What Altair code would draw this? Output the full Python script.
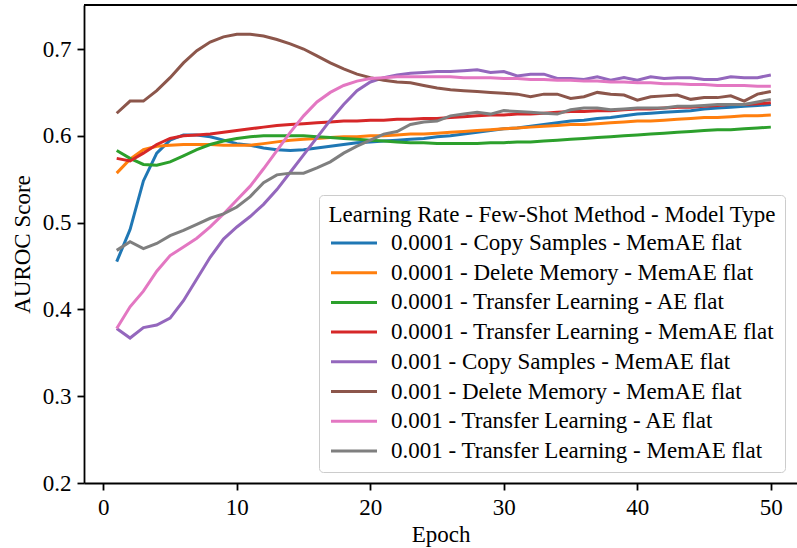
import altair as alt
import pandas as pd

epochs = list(range(1, 51))

series_names = [
    "0.0001 - Copy Samples - MemAE flat",
    "0.0001 - Delete Memory - MemAE flat",
    "0.0001 - Transfer Learning - AE flat",
    "0.0001 - Transfer Learning - MemAE flat",
    "0.001 - Copy Samples - MemAE flat",
    "0.001 - Delete Memory - MemAE flat",
    "0.001 - Transfer Learning - AE flat",
    "0.001 - Transfer Learning - MemAE flat",
]

colors = ["#1f77b4", "#ff7f0e", "#2ca02c", "#d62728",
          "#9467bd", "#8c564b", "#e377c2", "#7f7f7f"]

lr4_copy = [0.455, 0.492, 0.548, 0.580, 0.595, 0.601, 0.601, 0.599, 0.595, 0.591,
            0.589, 0.586, 0.584, 0.583, 0.584, 0.586, 0.588, 0.590, 0.592, 0.593,
            0.594, 0.595, 0.596, 0.597, 0.599, 0.600, 0.602, 0.604, 0.606, 0.608,
            0.609, 0.611, 0.613, 0.615, 0.617, 0.618, 0.620, 0.621, 0.623, 0.625,
            0.626, 0.627, 0.628, 0.629, 0.631, 0.632, 0.633, 0.634, 0.635, 0.636]

lr4_delete = [0.557, 0.573, 0.584, 0.588, 0.589, 0.590, 0.590, 0.590, 0.589, 0.589,
              0.589, 0.591, 0.593, 0.595, 0.596, 0.597, 0.598, 0.599, 0.599, 0.600,
              0.600, 0.601, 0.602, 0.602, 0.603, 0.604, 0.605, 0.606, 0.607, 0.608,
              0.609, 0.610, 0.611, 0.612, 0.613, 0.613, 0.614, 0.615, 0.616, 0.617,
              0.617, 0.618, 0.619, 0.620, 0.621, 0.621, 0.622, 0.623, 0.623, 0.624]

lr4_tl_ae = [0.583, 0.574, 0.567, 0.566, 0.570, 0.577, 0.584, 0.590, 0.594, 0.597,
             0.599, 0.600, 0.600, 0.600, 0.600, 0.599, 0.598, 0.597, 0.596, 0.595,
             0.594, 0.593, 0.592, 0.592, 0.591, 0.591, 0.591, 0.591, 0.592, 0.592,
             0.593, 0.593, 0.594, 0.595, 0.596, 0.597, 0.598, 0.599, 0.600, 0.601,
             0.602, 0.603, 0.604, 0.605, 0.606, 0.607, 0.607, 0.608, 0.609, 0.610]

lr4_tl_mem = [0.574, 0.571, 0.580, 0.590, 0.597, 0.600, 0.601, 0.602, 0.604, 0.606,
              0.608, 0.610, 0.612, 0.613, 0.614, 0.615, 0.616, 0.617, 0.617, 0.618,
              0.618, 0.619, 0.619, 0.620, 0.620, 0.621, 0.622, 0.623, 0.624, 0.624,
              0.625, 0.625, 0.626, 0.627, 0.628, 0.628, 0.629, 0.629, 0.630, 0.631,
              0.631, 0.632, 0.633, 0.633, 0.634, 0.635, 0.636, 0.636, 0.637, 0.638]

lr3_copy = [0.378, 0.367, 0.379, 0.382, 0.390, 0.410, 0.435, 0.460, 0.481, 0.495,
            0.507, 0.521, 0.538, 0.558, 0.578, 0.598, 0.618, 0.636, 0.652, 0.662,
            0.667, 0.670, 0.672, 0.673, 0.674, 0.674, 0.675, 0.676, 0.673, 0.674,
            0.669, 0.671, 0.671, 0.666, 0.666, 0.665, 0.668, 0.664, 0.667, 0.664,
            0.668, 0.666, 0.667, 0.667, 0.665, 0.665, 0.668, 0.667, 0.667, 0.670]

lr3_delete = [0.626, 0.640, 0.640, 0.652, 0.667, 0.684, 0.698, 0.708, 0.714, 0.717,
              0.717, 0.715, 0.711, 0.706, 0.700, 0.692, 0.684, 0.677, 0.671, 0.667,
              0.664, 0.662, 0.661, 0.658, 0.655, 0.653, 0.652, 0.651, 0.650, 0.649,
              0.648, 0.645, 0.648, 0.648, 0.643, 0.645, 0.650, 0.648, 0.647, 0.641,
              0.645, 0.646, 0.647, 0.642, 0.644, 0.644, 0.646, 0.640, 0.648, 0.651]

lr3_tl_ae = [0.378, 0.403, 0.421, 0.444, 0.462, 0.472, 0.482, 0.495, 0.510, 0.526,
             0.542, 0.562, 0.583, 0.604, 0.623, 0.639, 0.650, 0.658, 0.663, 0.666,
             0.667, 0.668, 0.668, 0.668, 0.668, 0.668, 0.667, 0.667, 0.667, 0.666,
             0.666, 0.665, 0.665, 0.664, 0.664, 0.663, 0.663, 0.662, 0.662, 0.661,
             0.661, 0.660, 0.660, 0.659, 0.659, 0.658, 0.658, 0.658, 0.657, 0.657]

lr3_tl_mem = [0.468, 0.478, 0.470, 0.476, 0.485, 0.491, 0.498, 0.505, 0.510, 0.518,
              0.530, 0.546, 0.555, 0.557, 0.557, 0.563, 0.570, 0.580, 0.588, 0.595,
              0.602, 0.605, 0.613, 0.616, 0.617, 0.623, 0.625, 0.627, 0.625, 0.629,
              0.628, 0.627, 0.626, 0.625, 0.630, 0.632, 0.632, 0.630, 0.631, 0.632,
              0.632, 0.632, 0.634, 0.634, 0.635, 0.636, 0.636, 0.636, 0.639, 0.642]

all_values = [lr4_copy, lr4_delete, lr4_tl_ae, lr4_tl_mem,
              lr3_copy, lr3_delete, lr3_tl_ae, lr3_tl_mem]

x_ticks = [0, 10, 20, 30, 40, 50]
y_ticks = [0.2, 0.3, 0.4, 0.5, 0.6, 0.7]

rows = []
for name, vals in zip(series_names, all_values):
    for e, v in zip(epochs, vals):
        rows.append({"Epoch": e, "AUROC": v, "Series": name})
df = pd.DataFrame(rows)

FONT = "'Liberation Serif', 'DejaVu Serif', serif"
FS = 23
Y_MAX = 0.7507

lines = alt.Chart(df).mark_line(strokeWidth=3).encode(
    x=alt.X("Epoch:Q",
            scale=alt.Scale(domain=[-1.45, 51.96], nice=False, zero=False),
            axis=alt.Axis(values=x_ticks, title="Epoch", format="d", grid=False,
                          tickSize=7, tickWidth=1.8, tickColor="black",
                          domainColor="black", domainWidth=1.8,
                          labelFont=FONT, labelFontSize=FS, labelColor="black",
                          labelPadding=6, titleFont=FONT, titleFontSize=FS,
                          titleFontWeight="normal", titleColor="black",
                          titlePadding=4)),
    y=alt.Y("AUROC:Q",
            scale=alt.Scale(domain=[0.2, Y_MAX], nice=False, zero=False),
            axis=alt.Axis(values=y_ticks, title="AUROC Score", format=".1f", grid=False,
                          tickSize=7, tickWidth=1.8, tickColor="black",
                          domainColor="black", domainWidth=1.8,
                          labelFont=FONT, labelFontSize=FS, labelColor="black",
                          labelPadding=6, titleFont=FONT, titleFontSize=FS,
                          titleFontWeight="normal", titleColor="black",
                          titlePadding=8)),
    color=alt.Color("Series:N",
                    scale=alt.Scale(domain=series_names, range=colors),
                    sort=series_names,
                    legend=alt.Legend(
                        orient="none", legendX=235, legendY=190,
                        title="Learning Rate - Few-Shot Method - Model Type",
                        titleFont=FONT, titleFontSize=FS, titleFontWeight="normal",
                        titleColor="black", titleAnchor="middle", titlePadding=3,
                        titleLimit=0,
                        labelFont=FONT, labelFontSize=FS, labelColor="black",
                        labelLimit=0, labelOffset=24,
                        symbolType="M-2,0H2", symbolSize=529, symbolStrokeWidth=3,
                        symbolOffset=12,
                        rowPadding=4.7, padding=9,
                        fillColor="white", strokeColor="#cccccc", cornerRadius=4,
                    )),
)

top_frame = alt.Chart(pd.DataFrame({"v": [Y_MAX]})).mark_rule(
    color="black", strokeWidth=1.8
).encode(y=alt.Y("v:Q"))

chart = alt.layer(lines, top_frame).properties(
    width=713, height=478,
    padding={"left": 84, "top": 5, "right": 0, "bottom": 65},
    autosize=alt.AutoSizeParams(type="none"),
    background="white",
).configure_view(stroke=None)

chart.save("out.html", embed_options={"renderer": "svg", "actions": False})
